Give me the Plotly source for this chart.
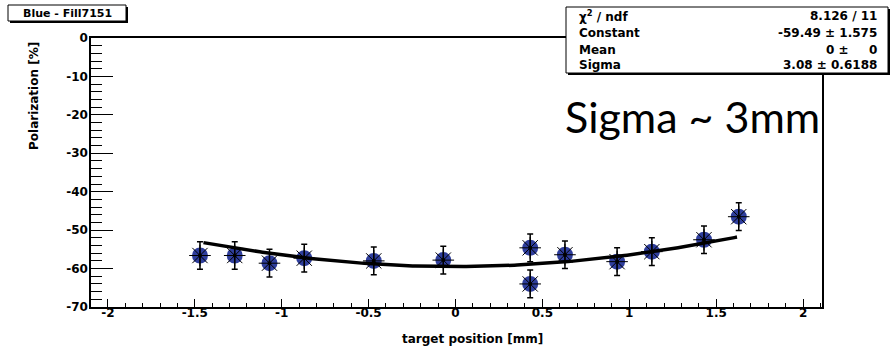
import numpy as np
import plotly.graph_objects as go

# ---- data ----
positions = [-1.47, -1.27, -1.07, -0.87, -0.47, -0.07, 0.43, 0.43, 0.63, 0.93, 1.13, 1.43, 1.63]
polarization = [-56.6, -56.6, -58.6, -57.3, -58.0, -57.8, -54.6, -64.0, -56.4, -58.2, -55.6, -52.5, -46.5]
pol_errors = [3.6, 3.6, 3.6, 3.6, 3.6, 3.6, 3.6, 3.6, 3.6, 3.6, 3.6, 3.6, 3.6]

fit_constant = -59.49
fit_mean = 0.0
fit_sigma = 3.08
fit_range = [-1.45, 1.62]

stat_labels = ["χ<sup>2</sup> / ndf", "Constant", "Mean", "Sigma"]
stat_values = ["8.126 / 11", "-59.49 ± 1.575", "0", "3.08 ± 0.6188"]

x_ticks = [-2, -1.5, -1, -0.5, 0, 0.5, 1, 1.5, 2]
y_ticks = [0, -10, -20, -30, -40, -50, -60, -70]

# ---- fit curve (Gaussian with fitted parameters) ----
fx = np.linspace(fit_range[0], fit_range[1], 200)
fy = fit_constant * np.exp(-0.5 * ((fx - fit_mean) / fit_sigma) ** 2)

W, H = 890, 348
ML, MR, MT, MB = 91, 68, 38, 41
PW, PH = W - ML - MR, H - MT - MB


def px(x):
    return (x - ML) / PW


def py(y):
    return 1 - (y - MT) / PH


BOLD = dict(family="DejaVu Sans", size=12, color="black", weight="bold")
BLUE = "#2f3e9c"

fig = go.Figure()
fig.add_trace(go.Scatter(
    x=positions, y=polarization, mode="markers",
    marker=dict(symbol="circle", size=16, color=BLUE, line=dict(width=0)),
    hoverinfo="skip", showlegend=False))
fig.add_trace(go.Scatter(
    x=positions, y=polarization, mode="markers",
    error_y=dict(type="data", array=pol_errors, visible=True, color="black", thickness=1.5, width=3),
    marker=dict(symbol="asterisk-open", size=18, color="black", line=dict(width=1, color="black")),
    hoverinfo="skip", showlegend=False))
fig.add_trace(go.Scatter(
    x=positions, y=polarization, mode="markers",
    marker=dict(symbol="circle", size=4, color="black"),
    hoverinfo="skip", showlegend=False))
fig.add_trace(go.Scatter(
    x=fx, y=fy, mode="lines", line=dict(color="black", width=3.5),
    hoverinfo="skip", showlegend=False))

fig.update_xaxes(
    range=[-2.097, 2.109], tickvals=x_ticks, ticktext=[f"{v:g}" for v in x_ticks],
    ticks="inside", ticklen=8, tickwidth=1, tickcolor="black",
    minor=dict(dtick=0.1, tick0=0, ticks="inside", ticklen=4, tickwidth=1, tickcolor="black"),
    showline=True, linecolor="black", linewidth=1.5, mirror=True,
    showgrid=False, zeroline=False, tickfont=BOLD, ticklabelstandoff=-6)
fig.update_yaxes(
    range=[-70, 0], tickvals=y_ticks, ticktext=[f"{v:g}" for v in y_ticks],
    ticks="inside", ticklen=22, tickwidth=1, tickcolor="black",
    minor=dict(dtick=2, tick0=0, ticks="inside", ticklen=11, tickwidth=1, tickcolor="black"),
    showline=True, linecolor="black", linewidth=1.5, mirror=True,
    showgrid=False, zeroline=False, tickfont=BOLD, ticklabelstandoff=-1)

shapes = []
# title box with shadow
shapes.append(dict(type="rect", xref="paper", yref="paper", x0=px(10), x1=px(128), y0=py(7), y1=py(23),
                   fillcolor="black", line=dict(width=0), layer="above"))
shapes.append(dict(type="rect", xref="paper", yref="paper", x0=px(8), x1=px(126), y0=py(5), y1=py(21),
                   fillcolor="white", line=dict(width=1, color="black"), layer="above"))
# stats box with shadow
shapes.append(dict(type="rect", xref="paper", yref="paper", x0=px(568), x1=px(891), y0=py(9), y1=py(75),
                   fillcolor="black", line=dict(width=0), layer="above"))
shapes.append(dict(type="rect", xref="paper", yref="paper", x0=px(566), x1=px(888), y0=py(7), y1=py(73),
                   fillcolor="white", line=dict(width=1, color="black"), layer="above"))

annotations = []
annotations.append(dict(text="Blue - Fill7151", x=px(67), y=py(13.5), xref="paper", yref="paper",
                        showarrow=False, xanchor="center", yanchor="middle", font=dict(BOLD, size=11)))
row_y = [15.5, 33, 50, 65]
for lab, yy in zip(stat_labels, row_y):
    annotations.append(dict(text=lab, x=px(577), y=py(yy), xref="paper", yref="paper",
                            showarrow=False, xanchor="left", yanchor="middle", font=BOLD))
for val, yy in zip(stat_values, row_y):
    annotations.append(dict(text=val, x=px(879), y=py(yy), xref="paper", yref="paper",
                            showarrow=False, xanchor="right", yanchor="middle", font=BOLD))
annotations.append(dict(text="0 ±", x=px(851), y=py(row_y[2]), xref="paper", yref="paper",
                        showarrow=False, xanchor="right", yanchor="middle", font=BOLD))
# axis titles
annotations.append(dict(text="Polarization [%]", x=px(34), y=py(96), xref="paper", yref="paper",
                        showarrow=False, xanchor="center", yanchor="middle", textangle=-90, font=BOLD))
annotations.append(dict(text="target position [mm]", x=px(472), y=py(339), xref="paper", yref="paper",
                        showarrow=False, xanchor="center", yanchor="middle", font=BOLD))
# big note
annotations.append(dict(text="Sigma ~ 3mm", x=px(822), y=py(116), xref="paper", yref="paper",
                        showarrow=False, xanchor="right", yanchor="middle",
                        font=dict(family="Lato", size=43, color="black")))

fig.update_layout(
    width=W, height=H, margin=dict(l=ML, r=MR, t=MT, b=MB, pad=0),
    paper_bgcolor="white", plot_bgcolor="white",
    shapes=shapes, annotations=annotations, showlegend=False)

fig.write_html("out.html", config={"displayModeBar": False},
               post_script="document.body.style.margin='0';document.body.style.overflow='hidden';")
